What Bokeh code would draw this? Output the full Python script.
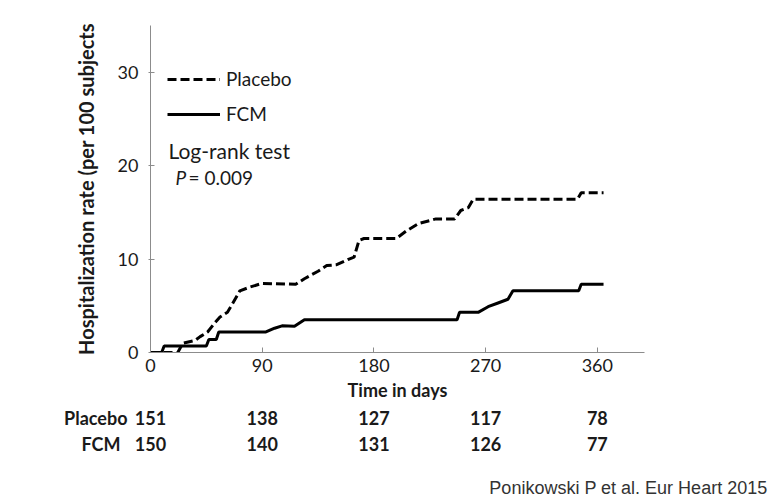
from bokeh.plotting import figure
from bokeh.layouts import column
from bokeh.models import (FixedTicker, Label, Legend, LegendItem,
                          ColumnDataSource, Range1d)
from bokeh.core.properties import value
from bokeh.embed import file_html
from bokeh.resources import INLINE

# ---- data ----
placebo_days = [0, 22, 26, 36, 40, 46, 52, 56, 62, 66, 72, 80, 90, 117, 124, 135,
                142, 150, 160, 164, 168, 172, 198, 206, 216, 230, 245, 250, 256,
                260, 344, 347, 365]
placebo_rate = [0, 0, 1.0, 1.3, 1.7, 2.2, 3.2, 3.8, 4.3, 5.2, 6.6, 7.0, 7.4, 7.3,
                7.9, 8.7, 9.3, 9.4, 10.0, 10.2, 12.0, 12.2, 12.2, 13.0, 13.8, 14.3,
                14.3, 15.2, 15.5, 16.4, 16.4, 17.1, 17.1]

fcm_days = [0, 9, 11, 45, 47, 53, 55, 93, 100, 106, 116, 124, 247, 249, 264, 272,
            280, 288, 292, 345, 347, 365]
fcm_rate = [0, 0, 0.7, 0.7, 1.4, 1.4, 2.2, 2.2, 2.6, 2.85, 2.8, 3.5, 3.5, 4.3,
            4.3, 4.9, 5.3, 5.7, 6.6, 6.6, 7.3, 7.3]

x_ticks = [0, 90, 180, 270, 360]
y_ticks = [0, 10, 20, 30]

groups = ["Placebo", "FCM"]
risk_days = [0, 90, 180, 270, 360]
risk_placebo = [151, 138, 127, 117, 78]
risk_fcm = [150, 140, 131, 126, 77]

FONT = "Lato"
INK = "#1a1a1a"
AXIS = "#8c8c8c"

W = 777
X_END = 398
BL, BR = 150, 133
FRAME_W = W - BL - BR
H_TOP, H_TAB = 406, 96

p = figure(width=W, height=H_TOP, x_range=(0, X_END), y_range=(0, 35),
           output_backend="svg", toolbar_location=None,
           min_border_left=BL, min_border_right=BR,
           min_border_top=25, min_border_bottom=H_TOP - 352)
p.frame_align = False
p.grid.visible = False
p.outline_line_color = None

# axes
p.xaxis.ticker = FixedTicker(ticks=x_ticks)
p.yaxis.ticker = FixedTicker(ticks=y_ticks)
for ax in (p.xaxis[0], p.yaxis[0]):
    ax.axis_line_color = AXIS
    ax.major_tick_line_color = AXIS
    ax.minor_tick_line_color = None
    ax.major_label_text_font = FONT
    ax.major_label_text_font_size = "18px"
    ax.major_label_text_color = INK
    ax.axis_label_text_font = FONT
    ax.axis_label_text_font_style = "bold"
    ax.axis_label_text_color = INK
p.xaxis.major_tick_in = 5
p.xaxis.major_tick_out = 0
p.xaxis.major_label_standoff = 6
p.xaxis.axis_label = "Time in days"
p.xaxis.axis_label_text_font_size = "18px"
p.xaxis.axis_label_standoff = 4

p.yaxis.major_tick_in = 4
p.yaxis.major_tick_out = 2
p.yaxis.major_label_standoff = 10
p.yaxis.axis_label = "Hospitalization rate (per 100 subjects"
p.yaxis.axis_label_text_font_size = "20px"
p.yaxis.axis_label_standoff = 17

# curves
r_pl = p.line(placebo_days, placebo_rate, line_color="black", line_width=3,
              line_dash="9 4")
r_fcm = p.line(fcm_days, fcm_rate, line_color="black", line_width=3)

legend = Legend(items=[LegendItem(label=groups[0], renderers=[r_pl]),
                       LegendItem(label=groups[1], renderers=[r_fcm])],
                location=(17, 227), orientation="vertical",
                padding=0, margin=0, spacing=12,
                glyph_width=53, glyph_height=20, label_height=20,
                label_standoff=6,
                label_text_font=FONT, label_text_font_size="19px",
                label_text_color=INK,
                border_line_color=None, background_fill_alpha=0)
p.add_layout(legend, "center")

# log-rank annotation
p.add_layout(Label(x=18, y=202, x_units="screen", y_units="screen",
                   text="Log-rank test", text_font=FONT, text_font_size="21px",
                   text_color=INK, text_baseline="middle"))
p.add_layout(Label(x=25, y=175, x_units="screen", y_units="screen",
                   text="P", text_font=FONT, text_font_size="19px",
                   text_font_style="italic",
                   text_color=INK, text_baseline="middle"))
p.add_layout(Label(x=38, y=175, x_units="screen", y_units="screen",
                   text="= 0.009", text_font=FONT, text_font_size="19px",
                   text_color=INK, text_baseline="middle"))

# ---- number-at-risk table: full-width frame, same px-per-day scale ----
ppd = FRAME_W / X_END
ROW_PX = 26          # vertical distance between table rows
TOP_PAD = 11         # first row centre below the table top
y_end = 1 + TOP_PAD / ROW_PX
t = figure(width=W, height=H_TAB, output_backend="svg", toolbar_location=None,
           x_range=Range1d(-BL / ppd, (W - BL) / ppd),
           y_range=Range1d(y_end - H_TAB / ROW_PX, y_end),
           x_axis_location=None, y_axis_location=None,
           min_border_left=0, min_border_right=0,
           min_border_top=0, min_border_bottom=0)
t.frame_align = False
t.grid.visible = False
t.outline_line_color = None

row_of = {groups[0]: 1, groups[1]: 0}
tab = ColumnDataSource(dict(
    x=risk_days + risk_days,
    y=[row_of[groups[0]]] * len(risk_days) + [row_of[groups[1]]] * len(risk_days),
    n=[str(v) for v in risk_placebo] + [str(v) for v in risk_fcm]))
t.text(x="x", y="y", text="n", source=tab,
       text_font=value(FONT), text_font_size="18px",
       text_font_style="bold", text_color=INK,
       text_align="center", text_baseline="middle")

# row names, right-aligned just left of the y axis position
for name, gap in ((groups[0], 23), (groups[1], 30)):
    t.add_layout(Label(x=BL - gap, y=row_of[name], x_units="screen",
                       y_units="data",
                       text=name, text_font=FONT, text_font_size="18px",
                       text_font_style="bold", text_color=INK,
                       text_align="right", text_baseline="middle"))

# citation
t.add_layout(Label(x=W - 10, y=15, x_units="screen", y_units="screen",
                   text="Ponikowski P et al. Eur Heart 2015",
                   text_font="Liberation Sans", text_font_size="18px",
                   text_color="#333333", text_align="right",
                   text_baseline="middle"))

layout = column(p, t, spacing=0)
open("out.html", "w").write(file_html(layout, INLINE))
